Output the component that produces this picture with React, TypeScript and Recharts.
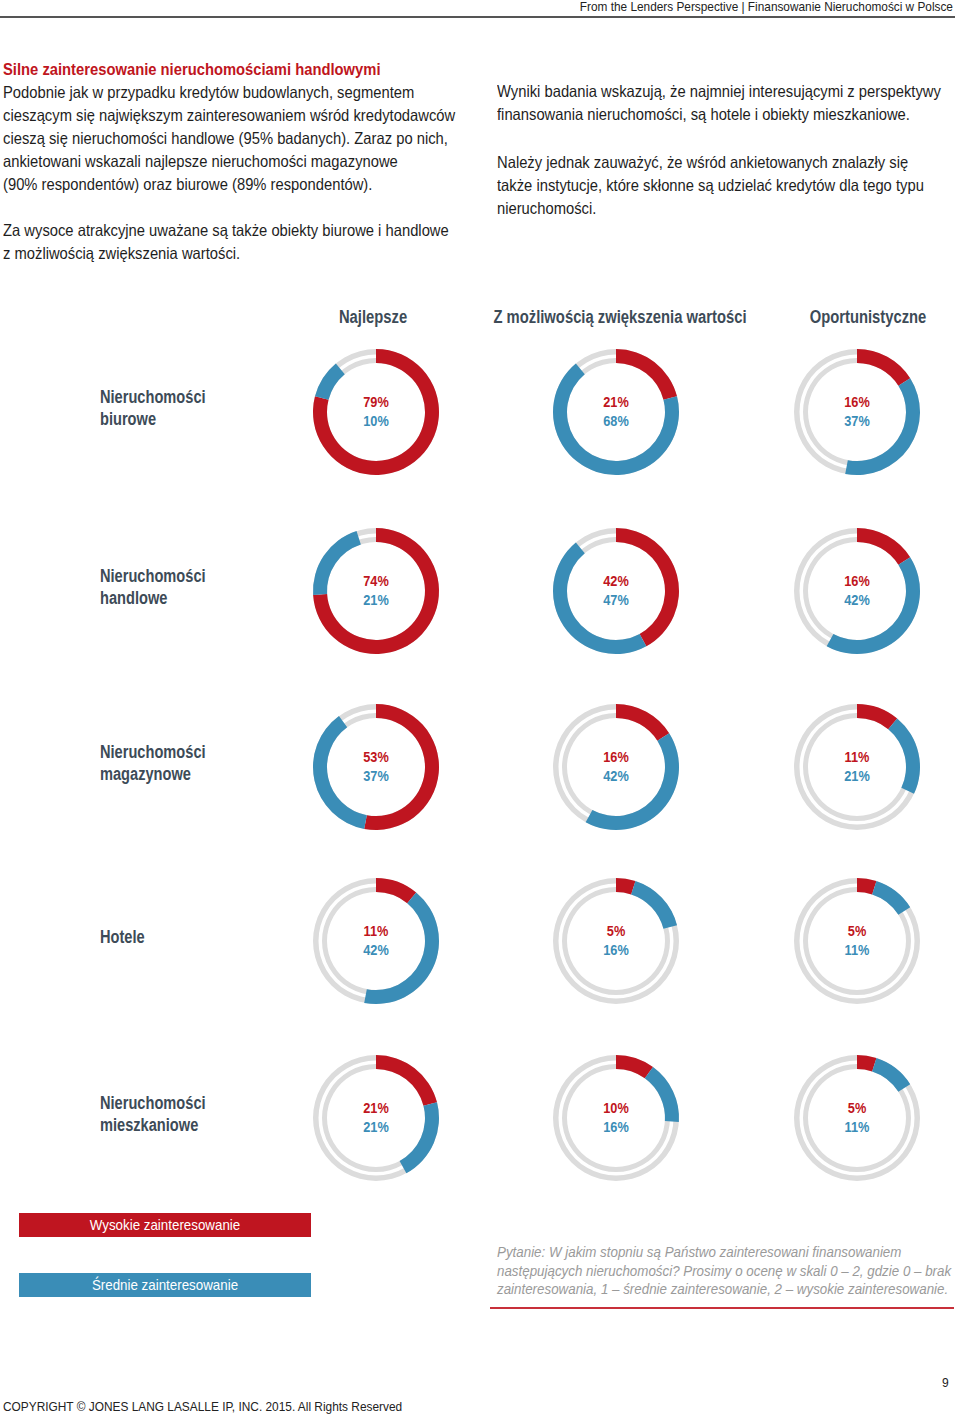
import React from "react";
import { PieChart, Pie, Cell } from "recharts";

// dane z wykresu (procent odpowiedzi)
const kolumny = ["Najlepsze", "Z możliwością zwiększenia wartości", "Oportunistyczne"];
const wiersze = [
  ["Nieruchomości", "biurowe"],
  ["Nieruchomości", "handlowe"],
  ["Nieruchomości", "magazynowe"],
  ["Hotele"],
  ["Nieruchomości", "mieszkaniowe"],
];
const wysokie = [
  [79, 21, 16],
  [74, 42, 16],
  [53, 16, 11],
  [11, 5, 5],
  [21, 10, 5],
];
const srednie = [
  [10, 68, 37],
  [21, 47, 42],
  [37, 42, 21],
  [42, 16, 11],
  [21, 16, 11],
];

const RED = "#bf1520";
const BLUE = "#3a8db7";
const GRAY = "#dcdcdc";
const SLATE = "#3d4b57";
const FONT = '"Liberation Sans", Arial, sans-serif';
// brak Arial Narrow, więc ściskamy Liberation Sans w poziomie
const SQ = 0.895;

// układ siatki
const colX = [376, 616, 857];
const rowY = [412, 591, 767, 941, 1118];
const headX = [373, 620, 868];
const SIZE = 140;

type NarrowProps = {
  left: number;
  top: number;
  align?: "left" | "center" | "right";
  k?: number;
  style?: React.CSSProperties;
  children: React.ReactNode;
};

// tekst absolutnie pozycjonowany, zwężony przez scaleX
const Narrow: React.FC<NarrowProps> = ({ left, top, align = "left", k = SQ, style, children }) => {
  const pos: React.CSSProperties =
    align === "left"
      ? { left, transformOrigin: "left top" }
      : align === "right"
      ? { right: 960 - left, transformOrigin: "right top", textAlign: "right" }
      : { left: left - 300, width: 600, textAlign: "center", transformOrigin: "center top" };
  return (
    <div
      style={{
        position: "absolute",
        top,
        whiteSpace: "nowrap",
        fontFamily: FONT,
        transform: `scaleX(${k})`,
        ...pos,
        ...style,
      }}
    >
      {children}
    </div>
  );
};

const Donut: React.FC<{ w: number; s: number; cx: number; cy: number }> = ({ w, s, cx, cy }) => {
  const data = [
    { name: "Wysokie", value: w },
    { name: "Średnie", value: s },
    { name: "Brak", value: 100 - w - s },
  ];
  return (
    <div style={{ position: "absolute", left: cx - SIZE / 2, top: cy - SIZE / 2, width: SIZE, height: SIZE }}>
      <PieChart width={SIZE} height={SIZE} margin={{ top: 0, right: 0, bottom: 0, left: 0 }}>
        <Pie
          data={[{ value: 1 }]}
          dataKey="value"
          cx="50%"
          cy="50%"
          innerRadius={49}
          outerRadius={63}
          fill={GRAY}
          stroke="none"
          isAnimationActive={false}
        />
        <Pie
          data={[{ value: 1 }]}
          dataKey="value"
          cx="50%"
          cy="50%"
          innerRadius={54}
          outerRadius={57.5}
          fill="#ffffff"
          stroke="none"
          isAnimationActive={false}
        />
        <Pie
          data={data}
          dataKey="value"
          cx="50%"
          cy="50%"
          startAngle={90}
          endAngle={-270}
          innerRadius={49}
          outerRadius={63}
          stroke="none"
          isAnimationActive={false}
        >
          <Cell fill={RED} />
          <Cell fill={BLUE} />
          <Cell fill="transparent" />
        </Pie>
      </PieChart>
      <div
        style={{
          position: "absolute",
          left: 0,
          width: SIZE,
          top: SIZE / 2 - 20,
          textAlign: "center",
          fontFamily: FONT,
          fontWeight: 700,
          fontSize: 15,
          lineHeight: "19px",
          transform: "scaleX(0.85)",
        }}
      >
        <div style={{ color: RED }}>{w}%</div>
        <div style={{ color: BLUE }}>{s}%</div>
      </div>
    </div>
  );
};

const body: React.CSSProperties = { fontSize: 16.5, lineHeight: "23px", color: "#1e1e1e" };
const bold: React.CSSProperties = { fontSize: 17.5, fontWeight: 700, color: SLATE };

const App: React.FC = () => {
  return (
    <div
      style={{
        position: "absolute",
        left: 0,
        top: 0,
        width: 960,
        height: 1417,
        background: "#fff",
        overflow: "hidden",
        fontFamily: FONT,
      }}
    >
      {/* nagłówek */}
      <Narrow left={953} top={-1} align="right" k={0.876} style={{ fontSize: 13.5, color: "#222" }}>
        From the Lenders Perspective | Finansowanie Nieruchomości w Polsce
      </Narrow>
      <div style={{ position: "absolute", left: 0, top: 16, width: 955, height: 2, background: "#555" }} />

      {/* tekst lewy */}
      <Narrow left={3} top={58} style={body}>
        <span style={{ color: RED, fontWeight: 700 }}>Silne zainteresowanie nieruchomościami handlowymi</span>
        <br />
        Podobnie jak w przypadku kredytów budowlanych, segmentem
        <br />
        cieszącym się największym zainteresowaniem wśród kredytodawców
        <br />
        cieszą się nieruchomości handlowe (95% badanych). Zaraz po nich,
        <br />
        ankietowani wskazali najlepsze nieruchomości magazynowe
        <br />
        (90% respondentów) oraz biurowe (89% respondentów).
      </Narrow>
      <Narrow left={3} top={219} style={body}>
        Za wysoce atrakcyjne uważane są także obiekty biurowe i handlowe
        <br />z możliwością zwiększenia wartości.
      </Narrow>

      {/* tekst prawy */}
      <Narrow left={497} top={80} style={body}>
        Wyniki badania wskazują, że najmniej interesującymi z perspektywy
        <br />
        finansowania nieruchomości, są hotele i obiekty mieszkaniowe.
      </Narrow>
      <Narrow left={497} top={151} style={body}>
        Należy jednak zauważyć, że wśród ankietowanych znalazły się
        <br />
        także instytucje, które skłonne są udzielać kredytów dla tego typu
        <br />
        nieruchomości.
      </Narrow>

      {/* nagłówki kolumn */}
      {kolumny.map((k, i) => (
        <Narrow key={k} left={headX[i]} top={306} align="center" k={0.845} style={{ ...bold, lineHeight: "22px" }}>
          {k}
        </Narrow>
      ))}

      {/* etykiety wierszy */}
      {wiersze.map((w, r) => (
        <Narrow
          key={r}
          left={100}
          top={rowY[r] - 3.5 - (w.length * 21.5) / 2}
          k={0.835}
          style={{ ...bold, lineHeight: "21.5px" }}
        >
          {w.map((l) => (
            <div key={l}>{l}</div>
          ))}
        </Narrow>
      ))}

      {/* pierścienie */}
      {rowY.map((y, r) =>
        colX.map((x, c) => <Donut key={`${r}-${c}`} w={wysokie[r][c]} s={srednie[r][c]} cx={x} cy={y} />)
      )}

      {/* legenda */}
      <div style={{ position: "absolute", left: 19, top: 1213, width: 292, height: 24, background: RED }} />
      <Narrow left={165} top={1213} align="center" k={0.89} style={{ color: "#fff", fontSize: 15, lineHeight: "24px" }}>
        Wysokie zainteresowanie
      </Narrow>
      <div style={{ position: "absolute", left: 19, top: 1273, width: 292, height: 24, background: BLUE }} />
      <Narrow left={165} top={1273} align="center" k={0.89} style={{ color: "#fff", fontSize: 15, lineHeight: "24px" }}>
        Średnie zainteresowanie
      </Narrow>

      {/* przypis */}
      <Narrow
        left={497}
        top={1243}
        k={0.89}
        style={{ fontSize: 15, lineHeight: "18.5px", fontStyle: "italic", color: "#9a9a9a" }}
      >
        Pytanie: W jakim stopniu są Państwo zainteresowani finansowaniem
        <br />
        następujących nieruchomości? Prosimy o ocenę w skali 0 – 2, gdzie 0 – brak
        <br />
        zainteresowania, 1 – średnie zainteresowanie, 2 – wysokie zainteresowanie.
      </Narrow>
      <div style={{ position: "absolute", left: 490, top: 1307, width: 464, height: 2, background: "#c8303a" }} />

      {/* stopka */}
      <Narrow left={942} top={1375} style={{ fontSize: 13.5, color: "#222" }}>
        9
      </Narrow>
      <Narrow left={3} top={1399} k={0.88} style={{ fontSize: 13.5, color: "#222" }}>
        COPYRIGHT © JONES LANG LASALLE IP, INC. 2015. All Rights Reserved
      </Narrow>
    </div>
  );
};

export default App;
